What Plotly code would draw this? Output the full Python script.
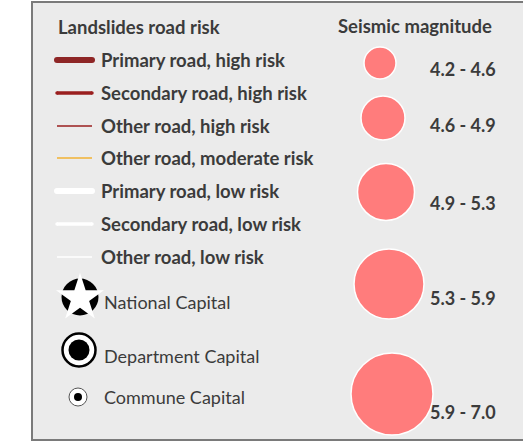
import plotly.graph_objects as go

# ---- data ----
road_labels = ["Primary road, high risk", "Secondary road, high risk", "Other road, high risk",
               "Other road, moderate risk", "Primary road, low risk", "Secondary road, low risk",
               "Other road, low risk"]
road_colors = ["#8E2626", "#9A1F1F", "#9A1F1F", "#F2B233", "#FFFFFF", "#FFFFFF", "#FFFFFF"]
road_widths = [6, 3.5, 1.3, 1.3, 6, 3.5, 1.3]

capital_labels = ["National Capital", "Department Capital", "Commune Capital"]

mag_labels = ["4.2 - 4.6", "4.6 - 4.9", "4.9 - 5.3", "5.3 - 5.9", "5.9 - 7.0"]
mag_sizes = [32, 44, 57, 70, 82]

# ---- layout constants ----
W, H = 523, 445
FONT = "Lato"
TXT = "#3B3B3B"
FS = 18.5
road_y = [60, 93, 126, 158, 191, 224, 257]
cap_y = [297, 350, 397]
cap_text_y = [302, 356, 397]
mag_x = [380, 383, 386, 389, 392]
mag_y = [63, 118, 192, 284, 394]
mag_text_y = [69, 125, 203, 298, 412]

fig = go.Figure()

# road lines
for lab, c, w, y in zip(road_labels, road_colors, road_widths, road_y):
    fig.add_trace(go.Scatter(x=[57, 92], y=[y, y], mode="lines",
                             line=dict(color=c, width=w), hoverinfo="skip", showlegend=False))
    if w >= 3:
        # rounded caps
        fig.add_trace(go.Scatter(x=[57, 92], y=[y, y], mode="markers",
                                 marker=dict(color=c, size=w, opacity=1, line=dict(width=0)),
                                 hoverinfo="skip", showlegend=False))
    fig.add_annotation(x=99, y=y, text="<b>%s</b>" % lab, xanchor="left", yanchor="middle",
                       showarrow=False, font=dict(family=FONT, size=FS, color=TXT))

# capitals
fig.add_trace(go.Scatter(x=[80], y=[cap_y[0]], mode="markers",
                         marker=dict(size=37, color="black", opacity=1, line=dict(width=0)),
                         hoverinfo="skip", showlegend=False))
fig.add_trace(go.Scatter(x=[80], y=[cap_y[0] + 1], mode="markers",
                         marker=dict(size=36, color="white", opacity=1, symbol="star", line=dict(width=0)),
                         hoverinfo="skip", showlegend=False))
fig.add_trace(go.Scatter(x=[79], y=[cap_y[1]], mode="markers",
                         marker=dict(size=33, color="white", opacity=1, line=dict(width=2.5, color="black")),
                         hoverinfo="skip", showlegend=False))
fig.add_trace(go.Scatter(x=[79], y=[cap_y[1]], mode="markers",
                         marker=dict(size=21, color="black", opacity=1, line=dict(width=0)),
                         hoverinfo="skip", showlegend=False))
fig.add_trace(go.Scatter(x=[78], y=[cap_y[2]], mode="markers",
                         marker=dict(size=18, color="white", opacity=1, line=dict(width=1, color="#555555")),
                         hoverinfo="skip", showlegend=False))
fig.add_trace(go.Scatter(x=[78], y=[cap_y[2]], mode="markers",
                         marker=dict(size=8, color="black", opacity=1, line=dict(width=0)),
                         hoverinfo="skip", showlegend=False))
for lab, y in zip(capital_labels, cap_text_y):
    fig.add_annotation(x=102, y=y, text=lab, xanchor="left", yanchor="middle",
                       showarrow=False, font=dict(family=FONT, size=18, color=TXT))

# magnitudes
fig.add_trace(go.Scatter(x=mag_x, y=mag_y, mode="markers",
                         marker=dict(size=mag_sizes, color="#FF7C7C", opacity=1,
                                     line=dict(width=1.5, color="white")),
                         hoverinfo="skip", showlegend=False))
for lab, y in zip(mag_labels, mag_text_y):
    fig.add_annotation(x=428, y=y, text="<b>%s</b>" % lab, xanchor="left", yanchor="middle",
                       showarrow=False, font=dict(family=FONT, size=18, color=TXT))

# titles
fig.add_annotation(x=56, y=27, text="<b>Landslides road risk</b>", xanchor="left", yanchor="middle",
                   showarrow=False, font=dict(family=FONT, size=FS, color=TXT))
fig.add_annotation(x=336, y=26, text="<b>Seismic magnitude</b>", xanchor="left", yanchor="middle",
                   showarrow=False, font=dict(family=FONT, size=FS, color=TXT))

fig.update_layout(
    width=W, height=H, margin=dict(l=0, r=0, t=0, b=0),
    paper_bgcolor="white", plot_bgcolor="white",
    xaxis=dict(range=[0, W], visible=False, fixedrange=True),
    yaxis=dict(range=[H, 0], visible=False, fixedrange=True),
    shapes=[dict(type="rect", xref="x", yref="y", x0=32, x1=W + 10, y0=2, y1=440,
                 fillcolor="#EBEBEB", line=dict(color="#7A7A7A", width=2), layer="below")],
)

fig.write_html("out.html", config={"displayModeBar": False},
               post_script="document.body.style.margin='0px';document.body.style.overflow='hidden';")
